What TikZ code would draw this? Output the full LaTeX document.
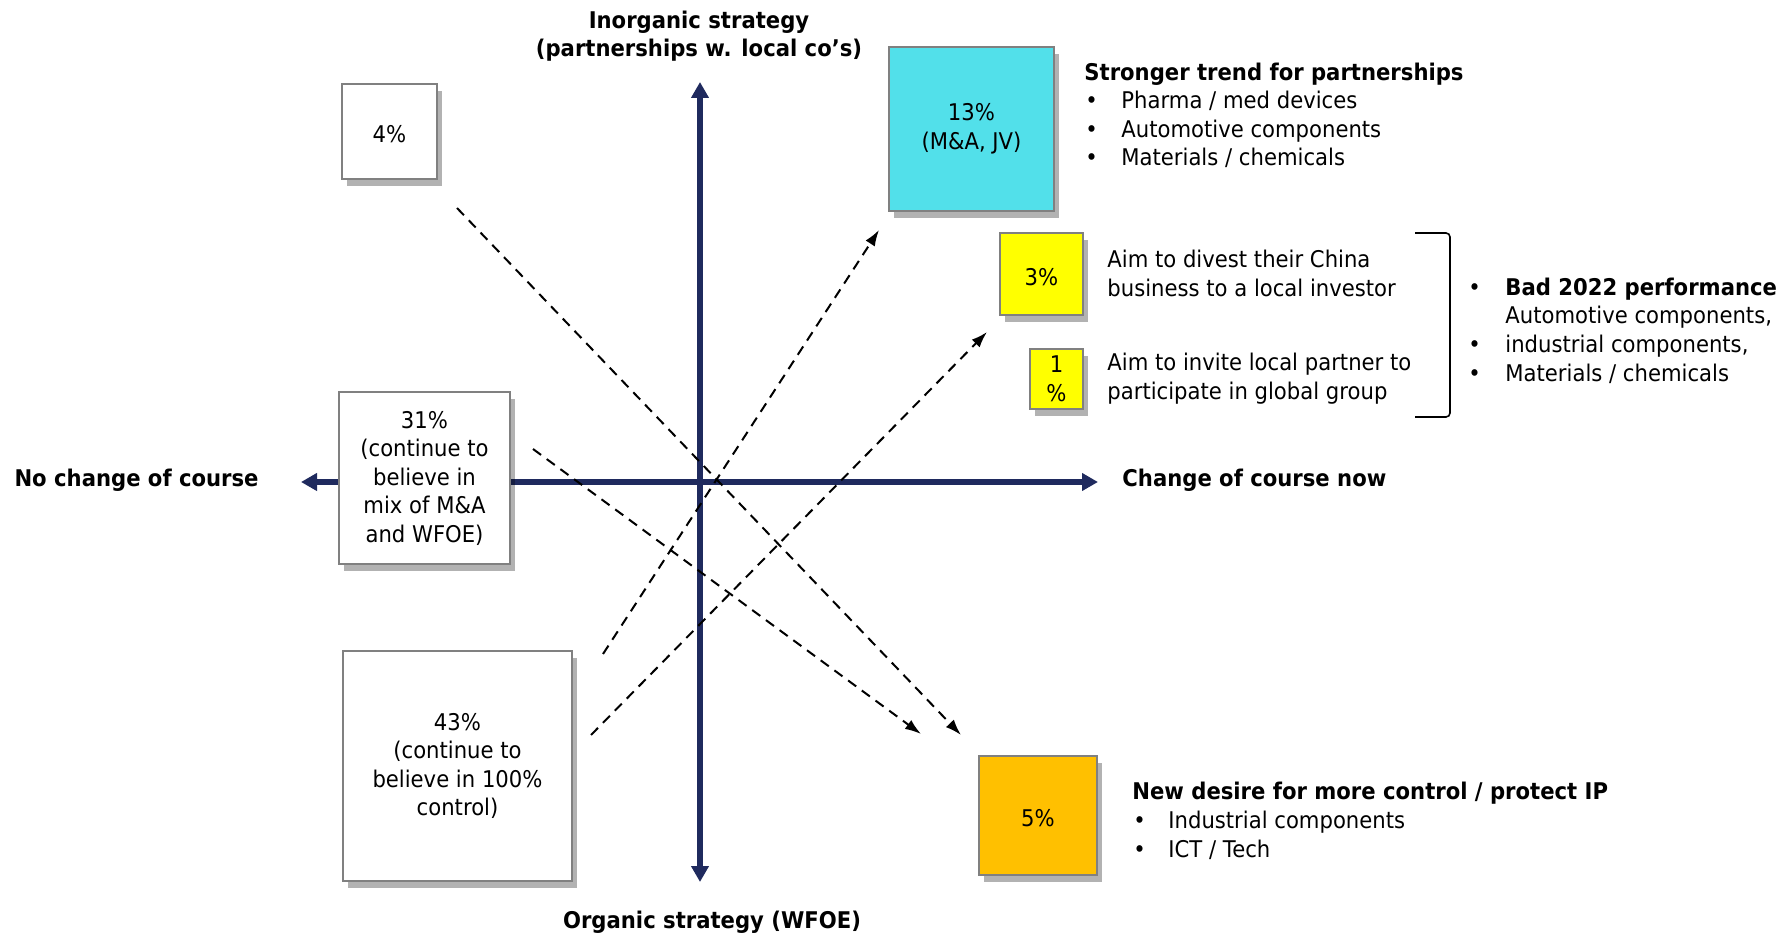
\documentclass[tikz,border=0pt]{standalone}
\usepackage{fontspec}
\setmainfont{DejaVu Sans}[FakeStretch=0.92]
\usetikzlibrary{positioning,shadows,arrows.meta}

\definecolor{axisblue}{RGB}{31,42,94}
\definecolor{jvcyan}{RGB}{82,224,234}
\definecolor{divyellow}{RGB}{255,255,0}
\definecolor{ctrlorange}{RGB}{255,192,0}
\newcommand{\bodyfont}{\fontsize{11.5}{14.25}\selectfont}

\tikzset{
	share/.style={draw=gray, line width=1pt, fill=white, inner sep=0pt, align=center, font=\bodyfont,
		execute at begin node={\rule{0pt}{11.2pt}},
		drop shadow={shadow xshift=2.5pt, shadow yshift=-3.5pt, fill=black, opacity=0.3}},
	axis/.style={draw=axisblue, line width=2.8pt, {Triangle[length=8pt,width=8.5pt]}-{Triangle[length=8pt,width=8.5pt]}},
	axislabel/.style={font=\bodyfont\bfseries, inner sep=0pt, align=center},
	move/.style={dashed, dash pattern=on 5pt off 3.5pt, line width=1pt, -{Latex[length=8pt,width=5.5pt]}},
	head/.style={font=\bodyfont\bfseries, inner sep=0pt, anchor=base west},
	item/.style={font=\bodyfont, inner sep=0pt, anchor=base west},
	dot/.style={font=\bodyfont, inner sep=0pt, anchor=base west}
}

\begin{document}
\begin{tikzpicture}[x=0.5pt,y=-0.5pt]
	\useasboundingbox (0,0) rectangle (1790,935);
	%% axes
	\coordinate (top) at (700,82);
	\coordinate (bottom) at (700,882);
	\coordinate (left) at (301,482);
	\coordinate (right) at (1098,482);
	\draw[axis] (bottom) -- (top);
	\draw[axis] (left) -- (right);
	\node[axislabel, anchor=south] (inorg) at (699,62) {Inorganic strategy\\(partnerships w. local co’s)};
	\node[axislabel, anchor=base east] (nochange) at (259,487) {No change of course};
	\node[axislabel, anchor=base west] (change) at (1122,487) {Change of course now};
	\node[axislabel, anchor=base] (org) at (712,928) {Organic strategy (WFOE)};

	%% shares
	\node[share, minimum width=47.5pt, minimum height=47.5pt] (b4) at (389.5,131.5) {4\%};
	\node[share, fill=jvcyan, minimum width=82.5pt, minimum height=82pt] (b13) at (971.5,129) {13\%\\(M\&A, JV)};
	\node[share, fill=divyellow, minimum width=41.5pt, minimum height=41pt] (b3) at (1041.5,274) {3\%};
	\node[share, fill=divyellow, minimum width=26.5pt, minimum height=30pt] (b1) at (1056.5,379) {1\\\%};
	\node[share, minimum width=85.5pt, minimum height=86pt] (b31) at (424.5,478) {31\%\\(continue to\\believe in\\mix of M\&A\\and WFOE)};
	\node[share, minimum width=114.5pt, minimum height=115pt] (b43) at (457.5,766) {43\%\\(continue to\\believe in 100\%\\control)};
	\node[share, fill=ctrlorange, minimum width=59pt, minimum height=59.5pt] (b5) at (1038,815.5) {5\%};

	%% shifts
	\coordinate (m4) at (457,208);
	\coordinate (m4end) at (961,735);
	\coordinate (m31) at (533,449);
	\coordinate (m31end) at (921,734);
	\coordinate (m43a) at (603,654);
	\coordinate (m43aend) at (879,230);
	\coordinate (m43b) at (591,735);
	\coordinate (m43bend) at (987,332);
	\draw[move] (m4) -- (m4end);
	\draw[move] (m31) -- (m31end);
	\draw[move] (m43a) -- (m43aend);
	\draw[move] (m43b) -- (m43bend);

	%% partnerships
	\node[head] (trend) at (1084,80.5) {Stronger trend for partnerships};
	\foreach \txt [count=\i] in {Pharma / med devices, Automotive components, Materials / chemicals}{
		\node[dot] (trend-dot-\i) at (1085,80.5+28.5*\i) {•};
		\node[item] (trend-\i) at (1121,80.5+28.5*\i) {\txt};
	}

	%% divest / invite
	\node[item] (divest-1) at (1107,268) {Aim to divest their China};
	\node[item] (divest-2) at (1107,297) {business to a local investor};
	\node[item] (invite-1) at (1107,371) {Aim to invite local partner to};
	\node[item] (invite-2) at (1107,400) {participate in global group};
	\coordinate (brtop) at (1415,233);
	\coordinate (brbot) at (1415,417);
	\draw[line width=0.8pt, rounded corners=2pt] (brtop) -- ++(35,0) |- (brbot);

	%% bad performance
	\node[head] (bad) at (1505,296) {Bad 2022 performance};
	\node[item] (bad-1) at (1505,324) {Automotive components,};
	\node[item] (bad-2) at (1505,353) {industrial components,};
	\node[item] (bad-3) at (1505,382) {Materials / chemicals};
	\foreach \yy [count=\i] in {296,353,382}{
		\node[dot] (bad-dot-\i) at (1468,\yy) {•};
	}

	%% control
	\node[head] (ctrl) at (1132,799.5) {New desire for more control / protect IP};
	\foreach \txt [count=\i] in {Industrial components, ICT / Tech}{
		\node[dot] (ctrl-dot-\i) at (1133,799.5+29*\i) {•};
		\node[item] (ctrl-\i) at (1168,799.5+29*\i) {\txt};
	}
\end{tikzpicture}
\end{document}
